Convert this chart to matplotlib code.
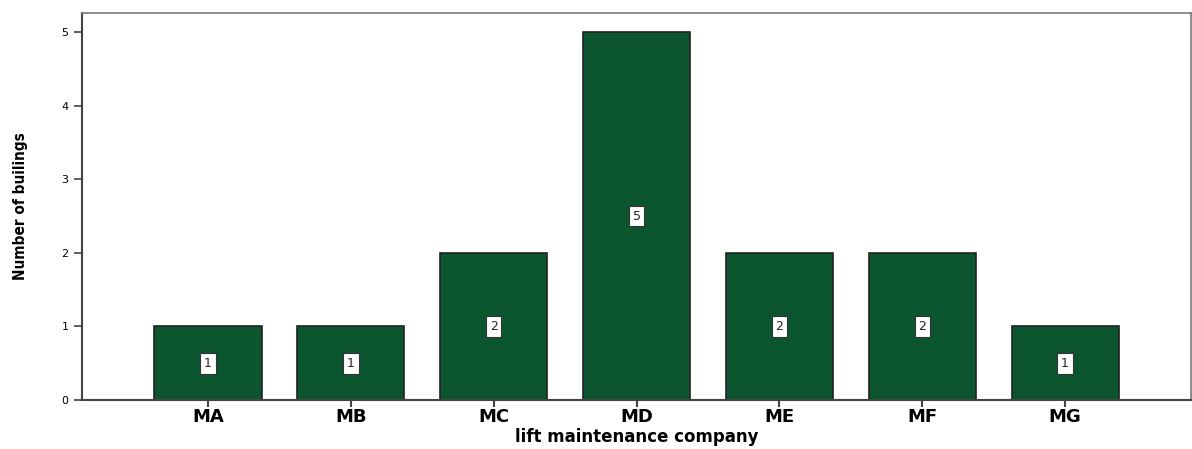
import matplotlib.pyplot as plt

companies = ["MA", "MB", "MC", "MD", "ME", "MF", "MG"]
buildings = [1, 1, 2, 5, 2, 2, 1]

fig = plt.figure(figsize=(11.92, 4.49), dpi=100)
ax = fig.add_axes([0.069, 0.109, 0.93, 0.862])

x = range(len(companies))
ax.bar(x, buildings, width=0.75, color="#0b552f", edgecolor="#222222", linewidth=1.2)

# count labels in small white boxes halfway up each bar
for i, v in zip(x, buildings):
    ax.text(i, v / 2, str(v), ha="center", va="center", fontsize=9, color="#222222",
            bbox=dict(boxstyle="square,pad=0.3", fc="white", ec="#333333", lw=0.8))

ax.set_xlim(-0.88, 6.88)
ax.set_ylim(0, 5.26)
ax.set_xticks(list(x))
ax.set_xticklabels(companies, fontsize=13, fontweight="bold")
ax.set_yticks(range(6))
ax.tick_params(axis="y", labelsize=8, length=6, width=1.2, color="#444444", pad=4)
ax.tick_params(axis="x", length=5, width=1.5, color="#444444", pad=1)

ax.set_xlabel("lift maintenance company", fontsize=12, fontweight="bold", labelpad=1)
ax.set_ylabel("Number of builings", fontsize=11, fontweight="bold",
              family="DejaVu Sans", fontstretch="condensed", labelpad=24)

for side in ["left", "bottom"]:
    ax.spines[side].set_linewidth(1.5)
    ax.spines[side].set_color("#444444")
for side in ["top", "right"]:
    ax.spines[side].set_linewidth(1.2)
    ax.spines[side].set_color("#777777")

fig.savefig("out.png", dpi=100)
